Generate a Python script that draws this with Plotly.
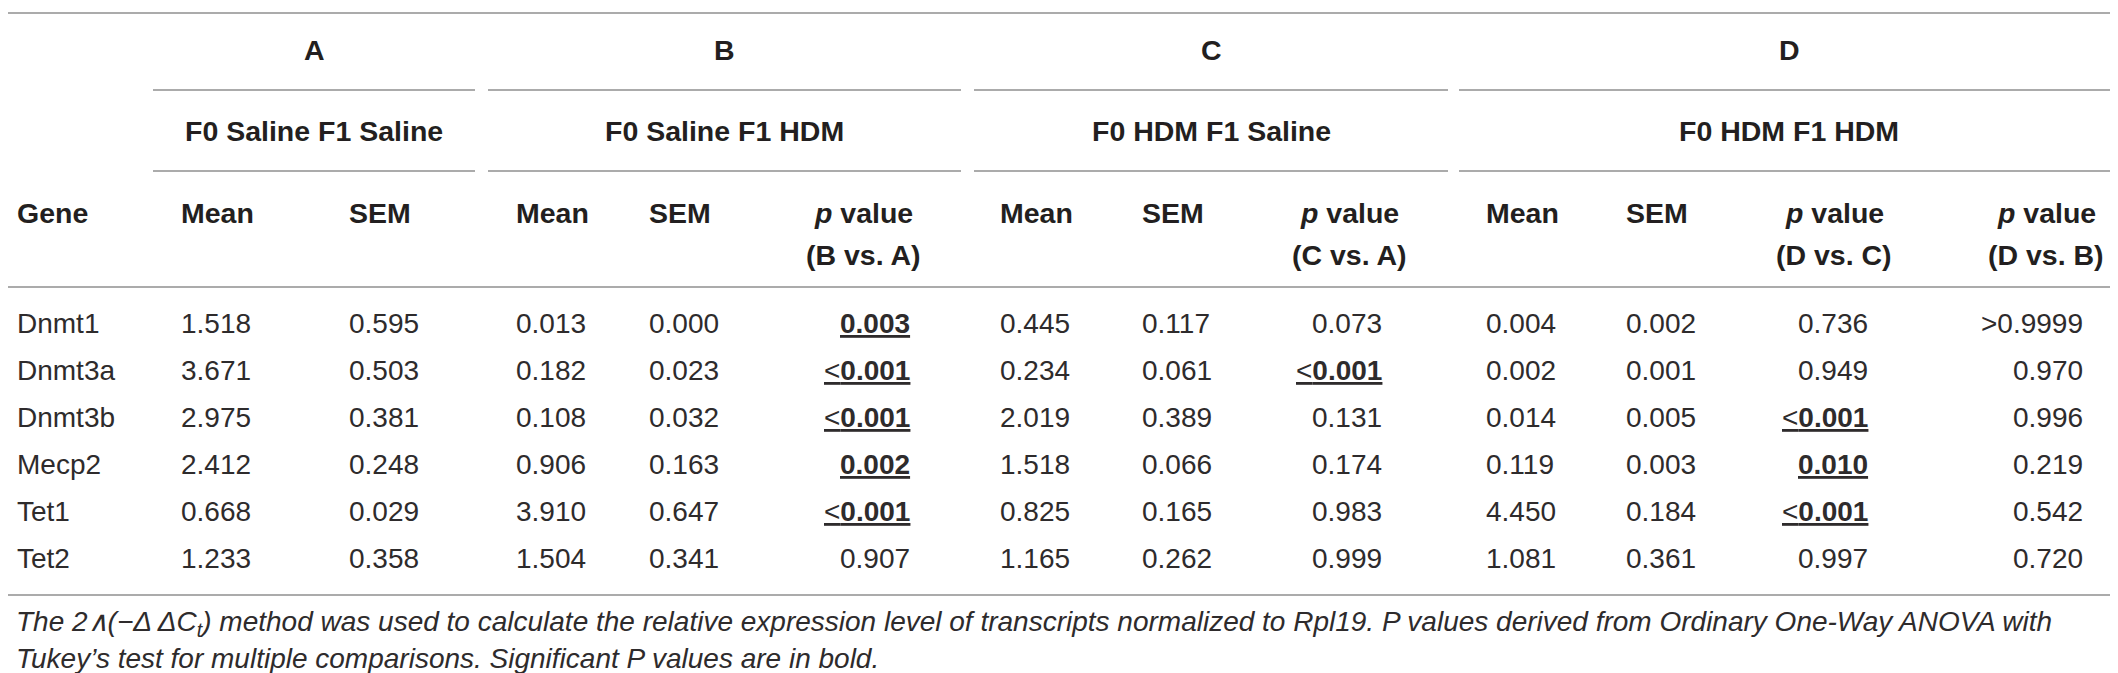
import plotly.graph_objects as go

# table contents
genes = ["Dnmt1", "Dnmt3a", "Dnmt3b", "Mecp2", "Tet1", "Tet2"]

a_mean = [1.518, 3.671, 2.975, 2.412, 0.668, 1.233]
a_sem = [0.595, 0.503, 0.381, 0.248, 0.029, 0.358]

b_mean = [0.013, 0.182, 0.108, 0.906, 3.910, 1.504]
b_sem = [0.000, 0.023, 0.032, 0.163, 0.647, 0.341]
p_b_vs_a = ["0.003", "<0.001", "<0.001", "0.002", "<0.001", "0.907"]

c_mean = [0.445, 0.234, 2.019, 1.518, 0.825, 1.165]
c_sem = [0.117, 0.061, 0.389, 0.066, 0.165, 0.262]
p_c_vs_a = ["0.073", "<0.001", "0.131", "0.174", "0.983", "0.999"]

d_mean = [0.004, 0.002, 0.014, 0.119, 4.450, 1.081]
d_sem = [0.002, 0.001, 0.005, 0.003, 0.184, 0.361]
p_d_vs_c = ["0.736", "0.949", "<0.001", "0.010", "<0.001", "0.997"]
p_d_vs_b = [">0.9999", "0.970", "0.996", "0.219", "0.542", "0.720"]

group_letters = ["A", "B", "C", "D"]
group_names = ["F0 Saline F1 Saline", "F0 Saline F1 HDM", "F0 HDM F1 Saline", "F0 HDM F1 HDM"]

caption_lines = [
    "The 2∧(−Δ ΔC<sub>t</sub>) method was used to calculate the relative expression level of "
    "transcripts normalized to Rpl19. P values derived from Ordinary One-Way ANOVA with",
    "Tukey’s test for multiple comparisons. Significant P values are in bold.",
]

# page geometry (pixels)
W, H = 2118, 673
FONT = "Liberation Sans, Arial, Helvetica, sans-serif"
INK = "#231f20"
BODY_INK = "#2e2b2c"
RULE = "#8f8f8f"
BODY = 28
HEAD = 28.5

ROW_Y0, ROW_H = 315, 47
group_spans = [(145, 467), (480, 953), (966, 1440), (1451, 2111)]


def is_significant(p):
    if p.startswith("<"):
        return True
    if p.startswith(">"):
        return False
    return float(p) < 0.05


def p_text(p):
    if p.startswith("<"):
        body = "&lt;<b>" + p[1:] + "</b>"
    elif p.startswith(">"):
        body = "&gt;" + p[1:]
    else:
        body = "<b>" + p + "</b>" if is_significant(p) else p
    if is_significant(p):
        return "<u>" + body + "</u>"
    return body


annotations = []
shapes = []


def add_text(x, y, text, anchor="left", size=BODY, italic=False, bold=False, color=INK):
    annotations.append(dict(
        x=x, y=y, xref="x", yref="y", text=text, showarrow=False,
        xanchor=anchor, yanchor="middle", align=anchor,
        font=dict(family=FONT, size=size, color=color,
                  style="italic" if italic else "normal",
                  weight="bold" if bold else "normal"),
        borderpad=0,
    ))


def add_rule(x0, x1, y):
    shapes.append(dict(type="line", xref="x", yref="y", x0=x0, x1=x1, y0=y, y1=y,
                       line=dict(color=RULE, width=1.6)))


# rules
add_rule(0, 2112, 5)
for x0, x1 in group_spans:
    add_rule(x0, x1, 82)
    add_rule(x0, x1, 163)
add_rule(0, 2112, 279)
add_rule(0, 2112, 587)

# group headers
for (x0, x1), letter, name in zip(group_spans, group_letters, group_names):
    add_text((x0 + x1) / 2, 42, letter, "center", HEAD, bold=True)
    add_text((x0 + x1) / 2, 123, name, "center", HEAD, bold=True)

# column headers
add_text(8, 205, "Gene", "left", HEAD, bold=True)
for x in [172, 507, 991, 1477]:
    add_text(x, 205, "Mean", "left", HEAD, bold=True)
for x in [340, 640, 1133, 1617]:
    add_text(x, 205, "SEM", "left", HEAD, bold=True)
for x, cmp_label in [(855, "(B vs. A)"), (1341, "(C vs. A)"), (1826, "(D vs. C)"), (2038, "(D vs. B)")]:
    add_text(x, 205, "<i>p</i> value", "center", HEAD, bold=True)
    add_text(x, 247, cmp_label, "center", HEAD, bold=True)

# body
columns = [
    (a_mean, 172, "left"), (a_sem, 340, "left"),
    (b_mean, 507, "left"), (b_sem, 640, "left"), (p_b_vs_a, 903, "right"),
    (c_mean, 991, "left"), (c_sem, 1133, "left"), (p_c_vs_a, 1375, "right"),
    (d_mean, 1477, "left"), (d_sem, 1617, "left"), (p_d_vs_c, 1861, "right"),
    (p_d_vs_b, 2076, "right"),
]

for i, gene in enumerate(genes):
    y = ROW_Y0 + ROW_H * i
    add_text(8, y, gene, color=BODY_INK)
    for values, x, anchor in columns:
        v = values[i]
        txt = p_text(v) if isinstance(v, str) else f"{v:.3f}"
        add_text(x, y, txt, anchor, color=BODY_INK)

# caption
add_text(7, 615, caption_lines[0], "left", BODY, italic=True, color=BODY_INK)
add_text(7, 650, caption_lines[1], "left", BODY, italic=True, color=BODY_INK)

fig = go.Figure()
fig.update_layout(
    width=W, height=H,
    margin=dict(l=0, r=0, t=0, b=0),
    paper_bgcolor="white", plot_bgcolor="white",
    xaxis=dict(range=[0, W], visible=False, fixedrange=True),
    yaxis=dict(range=[H, 0], visible=False, fixedrange=True),
    annotations=annotations,
    shapes=shapes,
    showlegend=False,
)

fig.write_html("out.html", config={"displayModeBar": False})
